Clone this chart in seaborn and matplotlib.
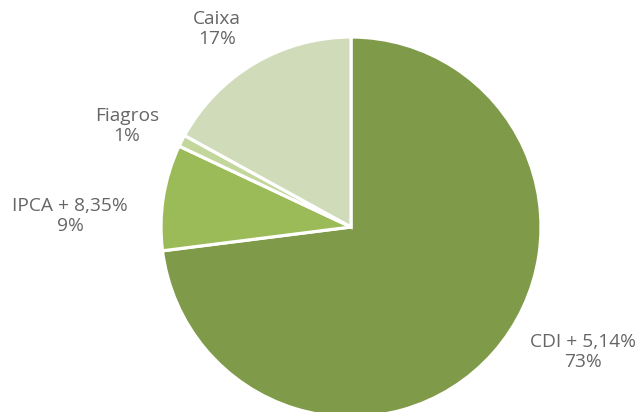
import matplotlib
matplotlib.use("Agg")
import matplotlib.pyplot as plt
import seaborn as sns

sns.set_theme(style="white")
plt.rcParams['font.family'] = ['Open Sans', 'DejaVu Sans']

categories = ["CDI + 5,14%", "IPCA + 8,35%", "Fiagros", "Caixa"]
values = [73, 9, 1, 17]
pct_labels = ["73%", "9%", "1%", "17%"]
colors = ["#7f9a48", "#9bbb59", "#c3d69b", "#d0dcb9"]
label_pos = [(1.221, -0.658), (-1.479, 0.058), (-1.179, 0.532), (-0.705, 1.042)]

fig = plt.figure(figsize=(6.38, 4.12), dpi=100)
ax = fig.add_axes([0, 0, 1, 1])
ax.pie(values, colors=colors, startangle=90, counterclock=False, radius=1,
       wedgeprops=dict(edgecolor="white", linewidth=2.3))
for cat, pct, (x, y) in zip(categories, pct_labels, label_pos):
    ax.text(x, y, f"{cat}\n{pct}", ha="center", va="center", fontsize=13.8,
            color="#666666", linespacing=1.2)
ax.set_xlim(-351/190, (638-351)/190)
ax.set_ylim(-(412-227)/190, 227/190)
ax.set_aspect("equal")
ax.axis("off")
fig.savefig("out.png", dpi=100)
